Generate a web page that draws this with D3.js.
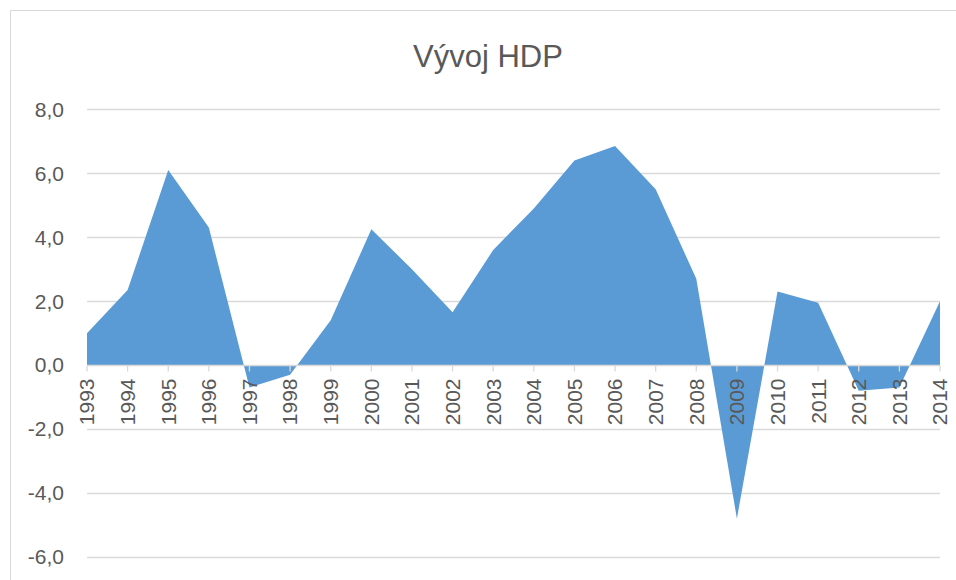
<!DOCTYPE html>
<html>
<head>
<meta charset="utf-8">
<script src="https://cdn.jsdelivr.net/npm/d3@7"></script>
<style>
  body { margin: 0; background: #fff; }
  text { font-family: "Liberation Sans", Arial, sans-serif; fill: #595959; }
</style>
</head>
<body>
<svg id="chart" width="956" height="580"></svg>
<script>
// data
var years = ["1993", "1994", "1995", "1996", "1997", "1998", "1999", "2000", "2001", "2002", "2003",
             "2004", "2005", "2006", "2007", "2008", "2009", "2010", "2011", "2012", "2013", "2014"];
var hdp = [1.0, 2.35, 6.1, 4.3, -0.7, -0.3, 1.4, 4.25, 3.0, 1.65, 3.6,
           4.9, 6.4, 6.85, 5.5, 2.7, -4.8, 2.3, 1.95, -0.8, -0.7, 2.0];
var yTicks = [-6, -4, -2, 0, 2, 4, 6, 8];
var title = "Vývoj HDP";

var svg = d3.select("#chart");

// chart frame (runs off the right and bottom edge)
svg.append("rect")
    .attr("x", 10.5)
    .attr("y", 10.5)
    .attr("width", 1000)
    .attr("height", 1000)
    .attr("fill", "none")
    .attr("stroke", "#d9d9d9");

var x = d3.scalePoint().domain(years).range([87, 940]);
var y = d3.scaleLinear().domain([-6, 8]).range([557, 109.3]);

// gridlines + y labels
var grid = svg.append("g");
grid.selectAll("line")
    .data(yTicks.filter(function (d) { return d !== 0; }))
    .enter().append("line")
    .attr("x1", 87).attr("x2", 940)
    .attr("y1", function (d) { return Math.round(y(d)) + 0.5; })
    .attr("y2", function (d) { return Math.round(y(d)) + 0.5; })
    .attr("stroke", "#d9d9d9")
    .attr("stroke-width", 1.3);

var fmt = function (d) { return d3.format(".1f")(d).replace(".", ",").replace("−", "-"); };
grid.selectAll("text")
    .data(yTicks)
    .enter().append("text")
    .attr("x", 64)
    .attr("y", function (d) { return y(d); })
    .attr("dy", "0.35em")
    .attr("text-anchor", "end")
    .style("font-size", "21px")
    .text(fmt);

// area
var area = d3.area()
    .x(function (d, i) { return x(years[i]); })
    .y0(y(0))
    .y1(function (d) { return y(d); });

svg.append("path")
    .datum(hdp)
    .attr("d", area)
    .attr("fill", "#5b9bd5");

// category axis at zero
var xAxis = svg.append("g").attr("transform", "translate(0," + (Math.round(y(0)) + 0.5) + ")");
xAxis.append("line")
    .attr("x1", 87).attr("x2", 940)
    .attr("stroke", "#d9d9d9")
    .attr("stroke-width", 1.5);
xAxis.selectAll(".tk")
    .data(years)
    .enter().append("line")
    .attr("class", "tk")
    .attr("x1", function (d) { return x(d); })
    .attr("x2", function (d) { return x(d); })
    .attr("y1", 0).attr("y2", 6)
    .attr("stroke", "#d9d9d9")
    .attr("stroke-width", 1.3);
xAxis.selectAll("text")
    .data(years)
    .enter().append("text")
    .attr("transform", function (d) { return "translate(" + x(d) + ",13) rotate(-90)"; })
    .attr("dy", "0.35em")
    .attr("text-anchor", "end")
    .style("font-size", "21px")
    .text(function (d) { return d; });

// title
svg.append("text")
    .attr("x", 488)
    .attr("y", 67)
    .attr("text-anchor", "middle")
    .style("font-size", "31px")
    .text(title);
</script>
</body>
</html>
